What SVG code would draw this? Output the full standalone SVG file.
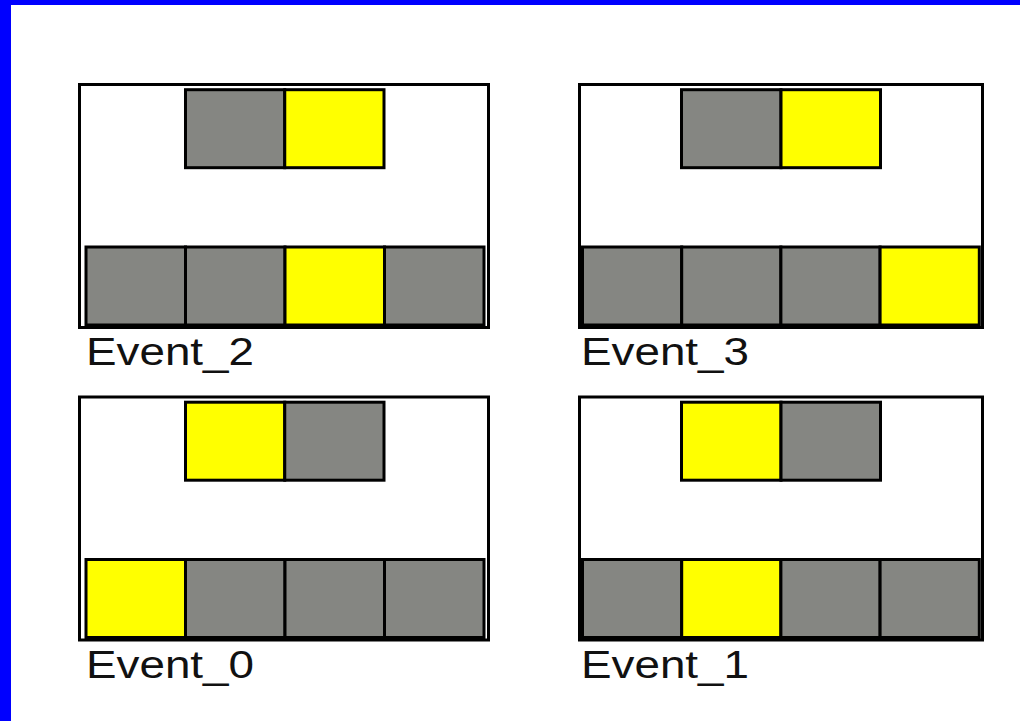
<svg xmlns="http://www.w3.org/2000/svg" width="1020" height="721" viewBox="0 0 1020 721">
<style>
.frame{fill:#ffffff;stroke:#000000;stroke-width:3}
.g{fill:#858682;stroke:#000000;stroke-width:3}
.y{fill:#ffff00;stroke:#000000;stroke-width:3}
.lbl{font-family:"Liberation Sans",Arial,sans-serif;font-size:38px;fill:#111111}
</style>
<rect x="0" y="0" width="1020" height="721" fill="#ffffff"/>
<rect x="0" y="0" width="1020" height="5" fill="#0000ff"/>
<rect x="0" y="0" width="11" height="721" fill="#0000ff"/>
<g id="event2">
<rect class="frame" x="79.5" y="84.5" width="409" height="243"/>
<rect class="g" x="185.5" y="89.7" width="99.25" height="78"/>
<rect class="y" x="284.75" y="89.7" width="99.25" height="78"/>
<rect class="g" x="86" y="247" width="99.5" height="78"/>
<rect class="g" x="185.5" y="247" width="99.5" height="78"/>
<rect class="y" x="285" y="247" width="99.5" height="78"/>
<rect class="g" x="384.5" y="247" width="99.5" height="78"/>
<text class="lbl" x="86" y="365" textLength="168" lengthAdjust="spacingAndGlyphs">Event_2</text>
</g>
<g id="event3">
<rect class="frame" x="579.5" y="84.5" width="403" height="243"/>
<rect class="g" x="681.5" y="89.7" width="99.5" height="78"/>
<rect class="y" x="781" y="89.7" width="99.5" height="78"/>
<rect class="g" x="582.5" y="247" width="99.2" height="78"/>
<rect class="g" x="681.7" y="247" width="99.2" height="78"/>
<rect class="g" x="780.9" y="247" width="99.2" height="78"/>
<rect class="y" x="880.1" y="247" width="99.2" height="78"/>
<text class="lbl" x="581" y="365" textLength="168" lengthAdjust="spacingAndGlyphs">Event_3</text>
</g>
<g id="event0">
<rect class="frame" x="79.5" y="397" width="409" height="243"/>
<rect class="y" x="185.5" y="402.2" width="99.25" height="78"/>
<rect class="g" x="284.75" y="402.2" width="99.25" height="78"/>
<rect class="y" x="86" y="559.5" width="99.5" height="78"/>
<rect class="g" x="185.5" y="559.5" width="99.5" height="78"/>
<rect class="g" x="285" y="559.5" width="99.5" height="78"/>
<rect class="g" x="384.5" y="559.5" width="99.5" height="78"/>
<text class="lbl" x="86" y="678" textLength="168" lengthAdjust="spacingAndGlyphs">Event_0</text>
</g>
<g id="event1">
<rect class="frame" x="579.5" y="397" width="403" height="243"/>
<rect class="y" x="681.5" y="402.2" width="99.5" height="78"/>
<rect class="g" x="781" y="402.2" width="99.5" height="78"/>
<rect class="g" x="582.5" y="559.5" width="99.2" height="78"/>
<rect class="y" x="681.7" y="559.5" width="99.2" height="78"/>
<rect class="g" x="780.9" y="559.5" width="99.2" height="78"/>
<rect class="g" x="880.1" y="559.5" width="99.2" height="78"/>
<text class="lbl" x="581" y="678" textLength="168" lengthAdjust="spacingAndGlyphs">Event_1</text>
</g>
<g id="connectors"/>
</svg>
